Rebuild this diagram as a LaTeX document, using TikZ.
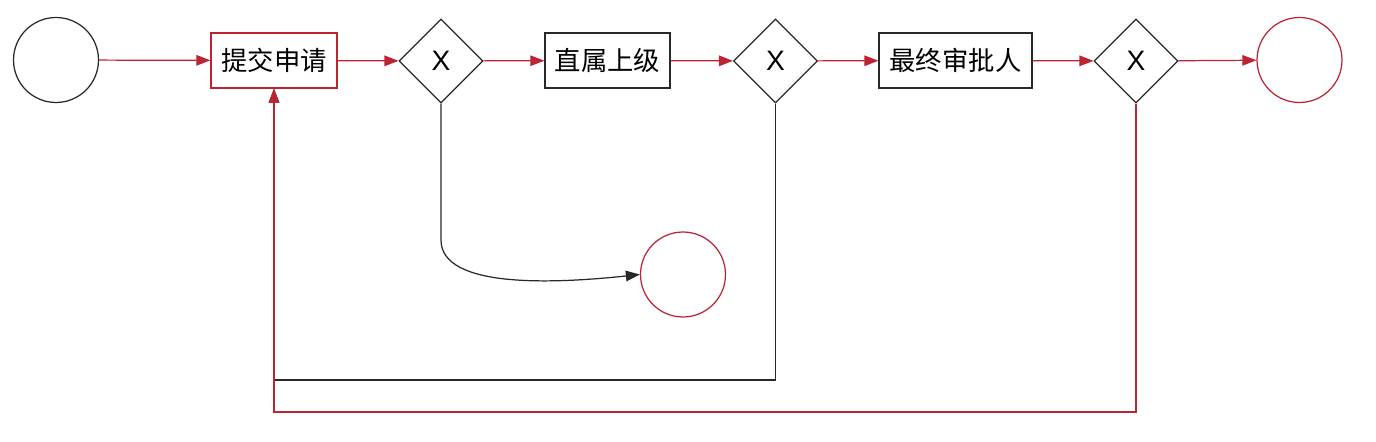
\documentclass[tikz,border=0pt]{standalone}
\usepackage{fontspec}
\setmainfont{Noto Sans CJK SC}
\newfontfamily\gatefont{Liberation Sans}
\usetikzlibrary{arrows.meta,shapes.geometric}
\definecolor{flowred}{RGB}{188,36,52}
\definecolor{flowgray}{RGB}{40,40,40}
\begin{document}
\begin{tikzpicture}[x=0.02cm, y=-0.02cm, line width=0.7pt,
    font=\fontsize{15}{18}\selectfont,
    event/.style={draw=flowgray, circle, minimum size=1.7cm, inner sep=0pt},
    task/.style={draw=flowgray, rectangle, minimum height=1.1cm, inner sep=0pt},
    gate/.style={draw=flowgray, diamond, aspect=1, minimum size=1.68cm, inner sep=0pt,
      font=\gatefont\fontsize{16}{18}\selectfont},
    redflow/.style={draw=flowred, -{Triangle[length=8pt, width=6pt]}},
    blackflow/.style={draw=flowgray, -{Triangle[length=8pt, width=6pt]}}]
    \useasboundingbox (0,0) rectangle (1376,442);
    % nodes
    \node[event] (start) at (56,60) {};
    \node[task, draw=flowred, minimum width=2.52cm] (apply) at (274,60.5) {提交申请};
    \node[gate] (gw1) at (441,61) {X};
    \node[task, minimum width=2.5cm] (lead) at (607.5,60.5) {直属上级};
    \node[gate] (gw2) at (775.5,61) {X};
    \node[task, minimum width=3.06cm] (final) at (955.5,60.5) {最终审批人};
    \node[gate] (gw3) at (1136,61) {X};
    \node[event, draw=flowred] (done) at (1299.5,60) {};
    \node[event, draw=flowred] (reject) at (683,274.5) {};
    % main flow
    \draw[redflow] (start) -- (apply);
    \draw[redflow] (apply) -- (gw1);
    \draw[redflow] (gw1) -- (lead);
    \draw[redflow] (lead) -- (gw2);
    \draw[redflow] (gw2) -- (final);
    \draw[redflow] (final) -- (gw3);
    \draw[redflow] (gw3) -- (done);
    % back flows
    \draw[blackflow] (gw1.south) -- (441,240) .. controls (441,290) and (560,283) .. (reject.west);
    \draw[blackflow] (gw2.south) |- (274,380) -- (apply.south);
    \draw[redflow] (gw3.south) |- (274,412) -- (apply.south);
\end{tikzpicture}
\end{document}
